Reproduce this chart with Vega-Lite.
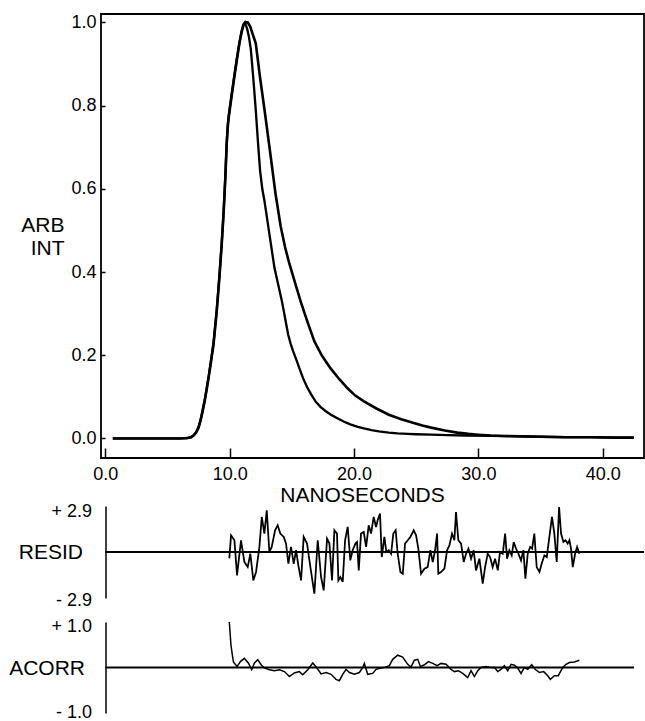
{
  "$schema": "https://vega.github.io/schema/vega-lite/v6.json",
  "padding": {"left": 8, "top": 12, "right": 1, "bottom": 0},
  "config": {
    "font": "Liberation Sans",
    "view": {"stroke": null},
    "axis": {"labelColor": "black", "titleColor": "black", "labelFontSize": 18, "titleFontSize": 21, "titleFontWeight": "normal", "grid": false, "domainColor": "black", "tickColor": "black", "labelFont": "Liberation Sans", "titleFont": "Liberation Sans"}
  },
  "datasets": {
    "curves": [
      {"t": 0.6, "v": 0, "s": "decay"}, {"t": 2, "v": 0, "s": "decay"}, {"t": 4, "v": 0, "s": "decay"}, {"t": 6, "v": 0, "s": "decay"},
      {"t": 6.6, "v": 0.001, "s": "decay"}, {"t": 6.9, "v": 0.003, "s": "decay"}, {"t": 7.1, "v": 0.007, "s": "decay"}, {"t": 7.3, "v": 0.014, "s": "decay"},
      {"t": 7.5, "v": 0.026, "s": "decay"}, {"t": 7.65, "v": 0.042, "s": "decay"}, {"t": 7.8, "v": 0.062, "s": "decay"}, {"t": 8.0, "v": 0.092, "s": "decay"},
      {"t": 8.15, "v": 0.118, "s": "decay"}, {"t": 8.3, "v": 0.145, "s": "decay"}, {"t": 8.5, "v": 0.185, "s": "decay"}, {"t": 8.7, "v": 0.226, "s": "decay"},
      {"t": 8.96, "v": 0.306, "s": "decay"}, {"t": 9.17, "v": 0.386, "s": "decay"}, {"t": 9.36, "v": 0.467, "s": "decay"}, {"t": 9.52, "v": 0.547, "s": "decay"},
      {"t": 9.65, "v": 0.627, "s": "decay"}, {"t": 9.76, "v": 0.708, "s": "decay"}, {"t": 9.85, "v": 0.75, "s": "decay"}, {"t": 9.92, "v": 0.772, "s": "decay"},
      {"t": 10.15, "v": 0.822, "s": "decay"}, {"t": 10.37, "v": 0.868, "s": "decay"}, {"t": 10.58, "v": 0.91, "s": "decay"}, {"t": 10.78, "v": 0.949, "s": "decay"},
      {"t": 10.95, "v": 0.975, "s": "decay"}, {"t": 11.1, "v": 0.993, "s": "decay"}, {"t": 11.26, "v": 1.0, "s": "decay"}, {"t": 11.45, "v": 1.0, "s": "decay"},
      {"t": 11.65, "v": 0.99, "s": "decay"}, {"t": 11.85, "v": 0.972, "s": "decay"}, {"t": 12.1, "v": 0.949, "s": "decay"}, {"t": 12.44, "v": 0.868, "s": "decay"},
      {"t": 12.8, "v": 0.79, "s": "decay"}, {"t": 13.2, "v": 0.7, "s": "decay"}, {"t": 13.7, "v": 0.585, "s": "decay"}, {"t": 14.1, "v": 0.51, "s": "decay"},
      {"t": 14.45, "v": 0.46, "s": "decay"}, {"t": 14.8, "v": 0.42, "s": "decay"}, {"t": 15.3, "v": 0.37, "s": "decay"}, {"t": 15.7, "v": 0.33, "s": "decay"},
      {"t": 16.2, "v": 0.285, "s": "decay"}, {"t": 16.8, "v": 0.234, "s": "decay"}, {"t": 17.4, "v": 0.2, "s": "decay"}, {"t": 18.1, "v": 0.169, "s": "decay"},
      {"t": 18.8, "v": 0.143, "s": "decay"}, {"t": 19.5, "v": 0.12, "s": "decay"}, {"t": 20.1, "v": 0.103, "s": "decay"}, {"t": 20.8, "v": 0.089, "s": "decay"},
      {"t": 21.8, "v": 0.072, "s": "decay"}, {"t": 22.8, "v": 0.057, "s": "decay"}, {"t": 23.8, "v": 0.046, "s": "decay"}, {"t": 24.8, "v": 0.037, "s": "decay"},
      {"t": 25.5, "v": 0.031, "s": "decay"}, {"t": 26.2, "v": 0.026, "s": "decay"}, {"t": 27.3, "v": 0.019, "s": "decay"}, {"t": 28.3, "v": 0.014, "s": "decay"},
      {"t": 29.2, "v": 0.011, "s": "decay"}, {"t": 30.0, "v": 0.009, "s": "decay"}, {"t": 31.0, "v": 0.007, "s": "decay"}, {"t": 32.0, "v": 0.006, "s": "decay"},
      {"t": 33.5, "v": 0.005, "s": "decay"}, {"t": 35, "v": 0.004, "s": "decay"}, {"t": 37, "v": 0.003, "s": "decay"}, {"t": 39, "v": 0.003, "s": "decay"},
      {"t": 41, "v": 0.002, "s": "decay"}, {"t": 42.5, "v": 0.002, "s": "decay"},

      {"t": 0.6, "v": 0, "s": "lamp"}, {"t": 2, "v": 0, "s": "lamp"}, {"t": 4, "v": 0, "s": "lamp"}, {"t": 6, "v": 0, "s": "lamp"},
      {"t": 6.6, "v": 0.001, "s": "lamp"}, {"t": 6.9, "v": 0.003, "s": "lamp"}, {"t": 7.1, "v": 0.008, "s": "lamp"}, {"t": 7.3, "v": 0.015, "s": "lamp"},
      {"t": 7.5, "v": 0.028, "s": "lamp"}, {"t": 7.65, "v": 0.044, "s": "lamp"}, {"t": 7.8, "v": 0.064, "s": "lamp"}, {"t": 8.0, "v": 0.094, "s": "lamp"},
      {"t": 8.15, "v": 0.12, "s": "lamp"}, {"t": 8.3, "v": 0.148, "s": "lamp"}, {"t": 8.5, "v": 0.188, "s": "lamp"}, {"t": 8.7, "v": 0.23, "s": "lamp"},
      {"t": 8.96, "v": 0.31, "s": "lamp"}, {"t": 9.17, "v": 0.39, "s": "lamp"}, {"t": 9.36, "v": 0.47, "s": "lamp"}, {"t": 9.52, "v": 0.55, "s": "lamp"},
      {"t": 9.65, "v": 0.63, "s": "lamp"}, {"t": 9.76, "v": 0.712, "s": "lamp"}, {"t": 9.85, "v": 0.755, "s": "lamp"}, {"t": 9.92, "v": 0.775, "s": "lamp"},
      {"t": 10.15, "v": 0.826, "s": "lamp"}, {"t": 10.37, "v": 0.872, "s": "lamp"}, {"t": 10.58, "v": 0.915, "s": "lamp"}, {"t": 10.78, "v": 0.952, "s": "lamp"},
      {"t": 10.95, "v": 0.978, "s": "lamp"}, {"t": 11.1, "v": 0.995, "s": "lamp"}, {"t": 11.22, "v": 1.0, "s": "lamp"}, {"t": 11.4, "v": 0.985, "s": "lamp"},
      {"t": 11.55, "v": 0.965, "s": "lamp"}, {"t": 11.7, "v": 0.935, "s": "lamp"}, {"t": 11.9, "v": 0.865, "s": "lamp"}, {"t": 12.1, "v": 0.788, "s": "lamp"},
      {"t": 12.28, "v": 0.71, "s": "lamp"}, {"t": 12.44, "v": 0.645, "s": "lamp"}, {"t": 12.62, "v": 0.6, "s": "lamp"}, {"t": 12.8, "v": 0.57, "s": "lamp"},
      {"t": 13.0, "v": 0.53, "s": "lamp"}, {"t": 13.2, "v": 0.49, "s": "lamp"}, {"t": 13.4, "v": 0.45, "s": "lamp"}, {"t": 13.6, "v": 0.41, "s": "lamp"},
      {"t": 13.9, "v": 0.37, "s": "lamp"}, {"t": 14.2, "v": 0.33, "s": "lamp"}, {"t": 14.45, "v": 0.29, "s": "lamp"}, {"t": 14.7, "v": 0.25, "s": "lamp"},
      {"t": 14.9, "v": 0.228, "s": "lamp"}, {"t": 15.1, "v": 0.21, "s": "lamp"}, {"t": 15.35, "v": 0.19, "s": "lamp"}, {"t": 15.6, "v": 0.169, "s": "lamp"},
      {"t": 15.9, "v": 0.145, "s": "lamp"}, {"t": 16.2, "v": 0.125, "s": "lamp"}, {"t": 16.55, "v": 0.106, "s": "lamp"}, {"t": 16.9, "v": 0.089, "s": "lamp"},
      {"t": 17.3, "v": 0.076, "s": "lamp"}, {"t": 17.7, "v": 0.066, "s": "lamp"}, {"t": 18.2, "v": 0.056, "s": "lamp"}, {"t": 18.7, "v": 0.048, "s": "lamp"},
      {"t": 19.2, "v": 0.04, "s": "lamp"}, {"t": 19.7, "v": 0.034, "s": "lamp"}, {"t": 20.3, "v": 0.028, "s": "lamp"}, {"t": 20.8, "v": 0.024, "s": "lamp"},
      {"t": 21.4, "v": 0.02, "s": "lamp"}, {"t": 22.0, "v": 0.017, "s": "lamp"}, {"t": 22.8, "v": 0.014, "s": "lamp"}, {"t": 23.5, "v": 0.012, "s": "lamp"},
      {"t": 24.3, "v": 0.011, "s": "lamp"}, {"t": 25, "v": 0.01, "s": "lamp"}, {"t": 26.2, "v": 0.009, "s": "lamp"}, {"t": 27.5, "v": 0.008, "s": "lamp"},
      {"t": 29, "v": 0.007, "s": "lamp"}, {"t": 31, "v": 0.006, "s": "lamp"}, {"t": 33.5, "v": 0.005, "s": "lamp"}, {"t": 35, "v": 0.004, "s": "lamp"},
      {"t": 37, "v": 0.003, "s": "lamp"}, {"t": 39, "v": 0.003, "s": "lamp"}, {"t": 41, "v": 0.002, "s": "lamp"}, {"t": 42.5, "v": 0.002, "s": "lamp"}
    ],
    "resid": [
      {"t": 0, "r": 0, "s": "zero"}, {"t": 43.32, "r": 0, "s": "zero"},
      {"t": 9.97, "r": -0.4, "s": "resid"}, {"t": 10.11, "r": 1.05, "s": "resid"}, {"t": 10.38, "r": 0.74, "s": "resid"}, {"t": 10.59, "r": -1.47, "s": "resid"},
      {"t": 10.91, "r": 0.74, "s": "resid"}, {"t": 11.18, "r": -0.63, "s": "resid"}, {"t": 11.45, "r": -0.95, "s": "resid"}, {"t": 11.66, "r": -0.11, "s": "resid"},
      {"t": 11.9, "r": -1.79, "s": "resid"}, {"t": 12.12, "r": -1.26, "s": "resid"}, {"t": 12.39, "r": 0.32, "s": "resid"}, {"t": 12.58, "r": 2.21, "s": "resid"},
      {"t": 12.79, "r": 1.16, "s": "resid"}, {"t": 12.98, "r": 2.63, "s": "resid"}, {"t": 13.19, "r": 0, "s": "resid"}, {"t": 13.38, "r": 0.32, "s": "resid"},
      {"t": 13.65, "r": 1.37, "s": "resid"}, {"t": 13.86, "r": 1.68, "s": "resid"}, {"t": 14.07, "r": 1.16, "s": "resid"}, {"t": 14.35, "r": 0.95, "s": "resid"},
      {"t": 14.53, "r": 0.53, "s": "resid"}, {"t": 14.72, "r": -0.74, "s": "resid"}, {"t": 14.93, "r": 0.32, "s": "resid"}, {"t": 15.15, "r": -0.74, "s": "resid"},
      {"t": 15.34, "r": 0.11, "s": "resid"}, {"t": 15.52, "r": -0.84, "s": "resid"}, {"t": 15.74, "r": -1.79, "s": "resid"}, {"t": 15.95, "r": 0.95, "s": "resid"},
      {"t": 16.22, "r": 0.53, "s": "resid"}, {"t": 16.49, "r": -0.95, "s": "resid"}, {"t": 16.81, "r": -2.63, "s": "resid"}, {"t": 17.08, "r": 0.74, "s": "resid"},
      {"t": 17.35, "r": -1.58, "s": "resid"}, {"t": 17.56, "r": -2.42, "s": "resid"}, {"t": 17.83, "r": 0.84, "s": "resid"}, {"t": 18.02, "r": 0.53, "s": "resid"},
      {"t": 18.23, "r": -1.79, "s": "resid"}, {"t": 18.42, "r": 1.37, "s": "resid"}, {"t": 18.63, "r": 1.16, "s": "resid"}, {"t": 18.74, "r": -1.79, "s": "resid"},
      {"t": 18.9, "r": -1.58, "s": "resid"}, {"t": 19.09, "r": -1.89, "s": "resid"}, {"t": 19.28, "r": 0.74, "s": "resid"}, {"t": 19.49, "r": 1.58, "s": "resid"},
      {"t": 19.7, "r": -0.53, "s": "resid"}, {"t": 19.89, "r": 0.11, "s": "resid"}, {"t": 20.11, "r": 0.53, "s": "resid"}, {"t": 20.24, "r": 0.63, "s": "resid"},
      {"t": 20.38, "r": -1.16, "s": "resid"}, {"t": 20.56, "r": 1.16, "s": "resid"}, {"t": 20.78, "r": 1.26, "s": "resid"}, {"t": 20.97, "r": 0.32, "s": "resid"},
      {"t": 21.18, "r": 1.68, "s": "resid"}, {"t": 21.37, "r": 1.16, "s": "resid"}, {"t": 21.58, "r": 2.21, "s": "resid"}, {"t": 21.77, "r": 1.58, "s": "resid"},
      {"t": 21.9, "r": 2.0, "s": "resid"}, {"t": 22.09, "r": 2.42, "s": "resid"}, {"t": 22.23, "r": -0.32, "s": "resid"}, {"t": 22.44, "r": 0.95, "s": "resid"},
      {"t": 22.6, "r": 0, "s": "resid"}, {"t": 22.79, "r": 0.11, "s": "resid"}, {"t": 22.98, "r": -0.11, "s": "resid"}, {"t": 23.16, "r": 1.16, "s": "resid"},
      {"t": 23.35, "r": 1.37, "s": "resid"}, {"t": 23.51, "r": -0.11, "s": "resid"}, {"t": 23.73, "r": -1.26, "s": "resid"}, {"t": 23.92, "r": -1.37, "s": "resid"},
      {"t": 24.1, "r": 0.53, "s": "resid"}, {"t": 24.32, "r": 0.74, "s": "resid"}, {"t": 24.53, "r": 0.95, "s": "resid"}, {"t": 24.8, "r": 1.37, "s": "resid"},
      {"t": 24.99, "r": 1.05, "s": "resid"}, {"t": 25.17, "r": 0.21, "s": "resid"}, {"t": 25.39, "r": -1.37, "s": "resid"}, {"t": 25.66, "r": -1.05, "s": "resid"},
      {"t": 25.92, "r": -0.95, "s": "resid"}, {"t": 26.14, "r": 0.11, "s": "resid"}, {"t": 26.33, "r": -0.63, "s": "resid"}, {"t": 26.52, "r": 0.11, "s": "resid"},
      {"t": 26.68, "r": 1.16, "s": "resid"}, {"t": 26.78, "r": -1.37, "s": "resid"}, {"t": 27.0, "r": -1.26, "s": "resid"}, {"t": 27.27, "r": -1.05, "s": "resid"},
      {"t": 27.48, "r": 0.11, "s": "resid"}, {"t": 27.67, "r": 0.42, "s": "resid"}, {"t": 27.88, "r": 1.16, "s": "resid"}, {"t": 28.07, "r": 0.74, "s": "resid"},
      {"t": 28.2, "r": 2.52, "s": "resid"}, {"t": 28.39, "r": 0.74, "s": "resid"}, {"t": 28.61, "r": 0.53, "s": "resid"}, {"t": 28.82, "r": -0.63, "s": "resid"},
      {"t": 29.01, "r": -0.11, "s": "resid"}, {"t": 29.2, "r": 0.21, "s": "resid"}, {"t": 29.41, "r": -0.42, "s": "resid"}, {"t": 29.62, "r": 0.11, "s": "resid"},
      {"t": 29.81, "r": -1.16, "s": "resid"}, {"t": 30.08, "r": -0.42, "s": "resid"}, {"t": 30.35, "r": -2.0, "s": "resid"}, {"t": 30.54, "r": -0.95, "s": "resid"},
      {"t": 30.75, "r": -0.11, "s": "resid"}, {"t": 30.94, "r": -0.32, "s": "resid"}, {"t": 31.15, "r": -0.95, "s": "resid"}, {"t": 31.34, "r": -0.42, "s": "resid"},
      {"t": 31.56, "r": -1.16, "s": "resid"}, {"t": 31.74, "r": 0, "s": "resid"}, {"t": 31.96, "r": -0.11, "s": "resid"}, {"t": 32.15, "r": 1.16, "s": "resid"},
      {"t": 32.31, "r": -0.42, "s": "resid"}, {"t": 32.49, "r": 0.11, "s": "resid"}, {"t": 32.68, "r": -0.21, "s": "resid"}, {"t": 32.84, "r": 0.63, "s": "resid"},
      {"t": 33.03, "r": 0.21, "s": "resid"}, {"t": 33.22, "r": -0.11, "s": "resid"}, {"t": 33.43, "r": -0.53, "s": "resid"}, {"t": 33.62, "r": 0.11, "s": "resid"},
      {"t": 33.78, "r": -1.68, "s": "resid"}, {"t": 33.97, "r": -0.11, "s": "resid"}, {"t": 34.16, "r": 0.32, "s": "resid"}, {"t": 34.32, "r": 0.21, "s": "resid"},
      {"t": 34.5, "r": 1.16, "s": "resid"}, {"t": 34.69, "r": -0.95, "s": "resid"}, {"t": 34.91, "r": -1.26, "s": "resid"}, {"t": 35.09, "r": -0.74, "s": "resid"},
      {"t": 35.31, "r": -0.21, "s": "resid"}, {"t": 35.5, "r": -0.32, "s": "resid"}, {"t": 35.71, "r": 0.95, "s": "resid"}, {"t": 35.92, "r": 2.21, "s": "resid"},
      {"t": 36.11, "r": 1.16, "s": "resid"}, {"t": 36.3, "r": -0.63, "s": "resid"}, {"t": 36.49, "r": 2.84, "s": "resid"}, {"t": 36.65, "r": 1.16, "s": "resid"},
      {"t": 36.84, "r": 0.63, "s": "resid"}, {"t": 37.0, "r": 0.74, "s": "resid"}, {"t": 37.18, "r": 0.53, "s": "resid"}, {"t": 37.32, "r": 0.74, "s": "resid"},
      {"t": 37.45, "r": 0.21, "s": "resid"}, {"t": 37.59, "r": -0.95, "s": "resid"}, {"t": 37.78, "r": -0.11, "s": "resid"}, {"t": 37.94, "r": 0.32, "s": "resid"},
      {"t": 38.12, "r": -0.11, "s": "resid"}
    ],
    "acorr": [
      {"t": 0, "a": 0, "s": "zero"}, {"t": 42.52, "a": 0, "s": "zero"},
      {"t": 9.97, "a": 1.0, "s": "acorr"}, {"t": 10.1, "a": 0.5, "s": "acorr"}, {"t": 10.2, "a": 0.3, "s": "acorr"}, {"t": 10.3, "a": 0.12, "s": "acorr"},
      {"t": 10.59, "a": 0.02, "s": "acorr"}, {"t": 10.86, "a": 0.13, "s": "acorr"}, {"t": 11.18, "a": 0.2, "s": "acorr"}, {"t": 11.5, "a": 0.1, "s": "acorr"},
      {"t": 11.77, "a": -0.05, "s": "acorr"}, {"t": 11.99, "a": 0.1, "s": "acorr"}, {"t": 12.26, "a": 0.17, "s": "acorr"}, {"t": 12.53, "a": 0.06, "s": "acorr"},
      {"t": 12.79, "a": -0.01, "s": "acorr"}, {"t": 13.19, "a": -0.05, "s": "acorr"}, {"t": 13.6, "a": -0.07, "s": "acorr"}, {"t": 14.0, "a": -0.05, "s": "acorr"},
      {"t": 14.4, "a": -0.09, "s": "acorr"}, {"t": 14.8, "a": -0.2, "s": "acorr"}, {"t": 15.2, "a": -0.12, "s": "acorr"}, {"t": 15.6, "a": -0.09, "s": "acorr"},
      {"t": 15.87, "a": -0.16, "s": "acorr"}, {"t": 16.28, "a": -0.05, "s": "acorr"}, {"t": 16.68, "a": 0.1, "s": "acorr"}, {"t": 17.02, "a": -0.01, "s": "acorr"},
      {"t": 17.35, "a": -0.14, "s": "acorr"}, {"t": 17.75, "a": -0.11, "s": "acorr"}, {"t": 18.15, "a": -0.15, "s": "acorr"}, {"t": 18.55, "a": -0.26, "s": "acorr"},
      {"t": 18.82, "a": -0.29, "s": "acorr"}, {"t": 19.09, "a": -0.15, "s": "acorr"}, {"t": 19.36, "a": -0.04, "s": "acorr"}, {"t": 19.63, "a": -0.11, "s": "acorr"},
      {"t": 20.03, "a": -0.15, "s": "acorr"}, {"t": 20.43, "a": -0.11, "s": "acorr"}, {"t": 20.7, "a": 0, "s": "acorr"}, {"t": 20.83, "a": 0.09, "s": "acorr"},
      {"t": 21.1, "a": -0.15, "s": "acorr"}, {"t": 21.5, "a": -0.13, "s": "acorr"}, {"t": 21.77, "a": -0.04, "s": "acorr"}, {"t": 22.17, "a": -0.01, "s": "acorr"},
      {"t": 22.44, "a": 0, "s": "acorr"}, {"t": 22.84, "a": 0.04, "s": "acorr"}, {"t": 23.11, "a": 0.18, "s": "acorr"}, {"t": 23.51, "a": 0.27, "s": "acorr"},
      {"t": 23.91, "a": 0.23, "s": "acorr"}, {"t": 24.32, "a": 0.07, "s": "acorr"}, {"t": 24.58, "a": 0.01, "s": "acorr"}, {"t": 24.85, "a": 0.16, "s": "acorr"},
      {"t": 25.12, "a": 0.18, "s": "acorr"}, {"t": 25.34, "a": 0.02, "s": "acorr"}, {"t": 25.66, "a": 0.06, "s": "acorr"}, {"t": 25.98, "a": 0.13, "s": "acorr"},
      {"t": 26.33, "a": 0.09, "s": "acorr"}, {"t": 26.68, "a": 0.04, "s": "acorr"}, {"t": 27.0, "a": 0.09, "s": "acorr"}, {"t": 27.4, "a": 0.07, "s": "acorr"},
      {"t": 27.8, "a": -0.04, "s": "acorr"}, {"t": 28.07, "a": -0.09, "s": "acorr"}, {"t": 28.39, "a": -0.07, "s": "acorr"}, {"t": 28.74, "a": -0.13, "s": "acorr"},
      {"t": 29.14, "a": -0.22, "s": "acorr"}, {"t": 29.41, "a": -0.07, "s": "acorr"}, {"t": 29.68, "a": -0.2, "s": "acorr"}, {"t": 29.95, "a": -0.07, "s": "acorr"},
      {"t": 30.21, "a": 0, "s": "acorr"}, {"t": 30.62, "a": 0.02, "s": "acorr"}, {"t": 31.02, "a": 0, "s": "acorr"}, {"t": 31.29, "a": 0, "s": "acorr"},
      {"t": 31.56, "a": -0.09, "s": "acorr"}, {"t": 31.82, "a": -0.04, "s": "acorr"}, {"t": 32.09, "a": 0.04, "s": "acorr"}, {"t": 32.36, "a": -0.07, "s": "acorr"},
      {"t": 32.63, "a": 0.07, "s": "acorr"}, {"t": 32.9, "a": 0.05, "s": "acorr"}, {"t": 33.16, "a": -0.01, "s": "acorr"}, {"t": 33.43, "a": -0.13, "s": "acorr"},
      {"t": 33.7, "a": 0, "s": "acorr"}, {"t": 33.97, "a": -0.04, "s": "acorr"}, {"t": 34.29, "a": 0.06, "s": "acorr"}, {"t": 34.56, "a": -0.04, "s": "acorr"},
      {"t": 34.91, "a": -0.11, "s": "acorr"}, {"t": 35.25, "a": -0.09, "s": "acorr"}, {"t": 35.58, "a": -0.18, "s": "acorr"}, {"t": 35.79, "a": -0.26, "s": "acorr"},
      {"t": 36.11, "a": -0.18, "s": "acorr"}, {"t": 36.43, "a": -0.18, "s": "acorr"}, {"t": 36.78, "a": 0, "s": "acorr"}, {"t": 37.05, "a": 0.07, "s": "acorr"},
      {"t": 37.32, "a": 0.11, "s": "acorr"}, {"t": 37.72, "a": 0.12, "s": "acorr"}, {"t": 38.12, "a": 0.16, "s": "acorr"}
    ]
  },
  "spacing": 48,
  "bounds": "flush",
  "vconcat": [
    {
      "width": 543,
      "height": 444,
      "view": {"stroke": "black", "strokeWidth": 1.8},
      "data": {"name": "curves"},
      "mark": {"type": "line", "color": "black"},
      "encoding": {
        "x": {
          "field": "t", "type": "quantitative",
          "scale": {"domain": [-0.35, 43.32], "nice": false, "zero": false},
          "axis": {"values": [0, 10, 20, 30, 40], "format": ".1f", "tickSize": -10, "tickWidth": 1.5, "labelPadding": 17, "domain": false, "labelFlush": false,
            "title": "NANOSECONDS", "titleX": 261, "titleY": 37, "titleBaseline": "middle", "titleAlign": "center"}
        },
        "y": {
          "field": "v", "type": "quantitative",
          "scale": {"domain": [-0.047, 1.0202], "nice": false, "zero": false},
          "axis": {"values": [0, 0.2, 0.4, 0.6, 0.8, 1.0], "format": ".1f", "tickSize": -4, "tickWidth": 1.5, "labelPadding": 9, "domain": false,
            "title": ["ARB", "INT"], "titleAngle": 0, "titleAlign": "right", "titleX": -37, "titleY": 211, "titleBaseline": "middle", "titleLineHeight": 23}
        },
        "strokeWidth": {"field": "s", "type": "ordinal", "scale": {"domain": ["decay", "lamp"], "range": [2.6, 1.5]}, "legend": null}
      }
    },
    {
      "spacing": 24,
      "bounds": "flush",
      "vconcat": [
        {
          "width": 543,
          "height": 92,
          "data": {"name": "resid"},
          "mark": {"type": "line", "color": "black"},
          "encoding": {
            "x": {"field": "t", "type": "quantitative", "scale": {"domain": [-0.35, 43.32], "nice": false, "zero": false}, "axis": null},
            "y": {"field": "r", "type": "quantitative", "scale": {"domain": [-2.9, 2.9], "nice": false, "zero": false},
              "axis": {"values": [-2.9, 2.9], "labelExpr": "datum.value > 0 ? '+ 2.9' : '- 2.9'", "ticks": false, "tickSize": 0, "labelPadding": 14,
                "labelOffset": {"condition": {"test": "datum.value > 0", "value": 5}, "value": 2},
                "domain": true, "domainWidth": 1.5, "offset": -4.5,
                "title": "RESID", "titleAngle": 0, "titleAlign": "right", "titleBaseline": "middle", "titleX": -23, "titleY": 46}},
            "strokeWidth": {"field": "s", "type": "ordinal", "scale": {"domain": ["zero", "resid"], "range": [1.5, 1.2]}, "legend": null}
          }
        },
        {
          "width": 543,
          "height": 91,
          "data": {"name": "acorr"},
          "mark": {"type": "line", "color": "black"},
          "encoding": {
            "x": {"field": "t", "type": "quantitative", "scale": {"domain": [-0.35, 43.32], "nice": false, "zero": false}, "axis": null},
            "y": {"field": "a", "type": "quantitative", "scale": {"domain": [-1, 1], "nice": false, "zero": false},
              "axis": {"values": [-1, 1], "labelExpr": "datum.value > 0 ? '+ 1.0' : '- 1.0'", "ticks": false, "tickSize": 0, "labelPadding": 14,
                "labelOffset": {"condition": {"test": "datum.value > 0", "value": 4}, "value": -1},
                "domain": true, "domainWidth": 1.5, "offset": -4.5,
                "title": "ACORR", "titleAngle": 0, "titleAlign": "right", "titleBaseline": "middle", "titleX": -21, "titleY": 46}},
            "strokeWidth": {"field": "s", "type": "ordinal", "scale": {"domain": ["zero", "acorr"], "range": [1.5, 1.3]}, "legend": null}
          }
        }
      ]
    }
  ]
}
